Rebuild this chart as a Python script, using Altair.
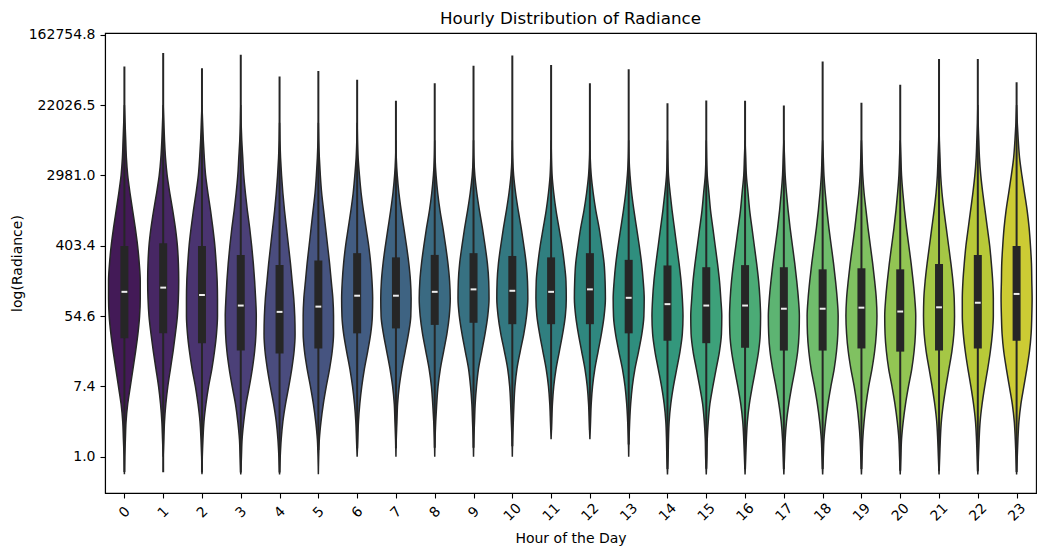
import colorsys
import numpy as np
import pandas as pd
import altair as alt

# ---------------- data ----------------
HOURS = list(range(24))

# y levels (natural-log radiance) at which the violin half-widths were read
LEVELS = [-0.5, 0.0, 0.5, 1.0, 1.5, 2.0, 2.5, 3.0, 3.5, 4.0, 4.5, 5.0,
          5.5, 6.0, 6.5, 7.0, 7.5, 8.0, 8.5, 9.0, 9.5, 10.0]

# relative density (violin half-width, arbitrary units) at each level, one list per hour
DENSITY = [
    [0, 1, 3, 5, 10, 18, 26, 34, 41, 46, 48, 48, 45, 40, 33, 25, 17, 10, 6, 4, 2, 0],   # 0
    [0, 0, 2, 4, 8, 14, 22, 30, 37, 43, 46, 47, 46, 43, 37, 29, 20, 12, 7, 4, 2, 0],    # 1
    [0, 1, 3, 6, 12, 20, 30, 38, 44, 47, 47, 46, 43, 39, 33, 26, 18, 11, 7, 4, 2, 0],   # 2
    [0, 2, 4, 9, 16, 26, 35, 42, 46, 47, 45, 42, 38, 33, 27, 20, 14, 9, 6, 3, 1, 0],    # 3
    [0, 2, 5, 10, 18, 28, 37, 44, 47, 46, 43, 38, 33, 27, 21, 15, 10, 6, 3, 1, 0, 0],   # 4
    [0, 1, 3, 8, 15, 24, 34, 42, 46, 46, 44, 39, 34, 28, 22, 16, 10, 6, 3, 1, 0, 0],    # 5
    [0, 0, 2, 4, 8, 14, 22, 32, 41, 46, 47, 45, 41, 35, 27, 19, 12, 7, 3, 1, 0, 0],     # 6
    [0, 0, 1, 3, 5, 10, 18, 28, 38, 45, 46, 44, 39, 32, 24, 16, 9, 4, 1, 0, 0, 0],      # 7
    [0, 0, 1, 3, 6, 10, 17, 27, 37, 44, 47, 45, 40, 33, 25, 16, 9, 4, 1, 0, 0, 0],      # 8
    [0, 0, 1, 3, 5, 9, 15, 25, 35, 43, 47, 46, 42, 35, 27, 18, 10, 4, 1, 0, 0, 0],      # 9
    [0, 0, 1, 3, 5, 8, 14, 24, 35, 43, 47, 46, 42, 35, 27, 18, 10, 4, 1, 0, 0, 0],      # 10
    [0, 0, 0, 2, 4, 8, 15, 25, 35, 43, 46, 45, 40, 33, 24, 15, 8, 3, 1, 0, 0, 0],       # 11
    [0, 0, 0, 2, 4, 8, 15, 25, 35, 43, 47, 46, 43, 36, 28, 18, 10, 4, 1, 0, 0, 0],      # 12
    [0, 0, 1, 3, 6, 11, 19, 30, 40, 46, 47, 44, 39, 32, 24, 16, 9, 4, 1, 0, 0, 0],      # 13
    [0, 2, 3, 5, 10, 18, 28, 38, 45, 47, 45, 41, 35, 28, 21, 14, 8, 3, 1, 0, 0, 0],     # 14
    [0, 2, 3, 6, 11, 20, 30, 40, 46, 47, 44, 40, 34, 27, 20, 13, 8, 3, 1, 0, 0, 0],     # 15
    [0, 2, 4, 7, 13, 22, 32, 41, 46, 47, 45, 41, 35, 28, 21, 14, 9, 4, 2, 0, 0, 0],     # 16
    [0, 2, 4, 8, 15, 24, 34, 42, 46, 47, 44, 39, 33, 26, 19, 13, 8, 4, 2, 0, 0, 0],     # 17
    [0, 2, 4, 9, 16, 25, 35, 42, 46, 47, 44, 39, 33, 26, 19, 13, 8, 4, 2, 0, 0, 0],     # 18
    [0, 2, 4, 8, 14, 22, 32, 40, 45, 47, 45, 40, 34, 27, 20, 14, 8, 4, 2, 0, 0, 0],     # 19
    [0, 2, 4, 9, 16, 25, 35, 42, 46, 47, 44, 39, 33, 26, 19, 13, 8, 4, 2, 0, 0, 0],     # 20
    [0, 2, 4, 7, 13, 21, 30, 39, 45, 47, 46, 42, 36, 29, 22, 15, 9, 5, 3, 1, 0, 0],     # 21
    [0, 2, 4, 7, 13, 21, 30, 38, 44, 47, 47, 45, 41, 36, 29, 22, 15, 9, 5, 3, 1, 0],    # 22
    [0, 2, 4, 7, 13, 22, 31, 39, 44, 46, 47, 46, 45, 42, 38, 32, 24, 16, 9, 5, 2, 0],   # 23
]

# inner box statistics (log radiance)
Q3 = [5.99, 6.07, 5.99, 5.74, 5.45, 5.58, 5.79, 5.67, 5.74, 5.79, 5.71, 5.67,
      5.79, 5.60, 5.44, 5.39, 5.45, 5.39, 5.33, 5.36, 5.33, 5.48, 5.74, 5.99]
Q1 = [3.37, 3.51, 3.23, 3.02, 2.94, 3.08, 3.51, 3.65, 3.75, 3.81, 3.77, 3.77,
      3.77, 3.51, 3.30, 3.23, 3.10, 3.02, 3.02, 3.08, 2.99, 3.02, 3.08, 3.30]
MEDIAN = [4.69, 4.81, 4.60, 4.30, 4.12, 4.27, 4.58, 4.58, 4.69, 4.76, 4.72, 4.69,
          4.76, 4.52, 4.34, 4.30, 4.30, 4.21, 4.21, 4.24, 4.13, 4.25, 4.38, 4.63]
WHISK_LO = [-0.43, -0.44, -0.45, -0.45, -0.45, 0.19, 0.24, 0.24, 0.26, 0.26, 0.30, 0.76,
            0.76, 0.35, -0.35, -0.34, -0.35, -0.35, -0.35, -0.35, -0.40, -0.40, -0.41, -0.43]
WHISK_HI = [11.10, 11.48, 11.05, 11.43, 10.81, 10.97, 10.72, 10.12, 10.62, 11.12, 11.41, 11.14,
            10.62, 11.02, 10.05, 10.13, 10.12, 9.99, 11.24, 10.07, 10.58, 11.31, 11.31, 10.65]

Y_TICKS = [0, 2, 4, 6, 8, 10, 12]

# ---------------- styling ----------------
FONT = "DejaVu Sans"
LINE = "#262626"
HALF_WIDTH = 0.4 / 47.0   # density units -> hour units

VIRIDIS_ANCHORS = ["#440154", "#471365", "#482475", "#463480", "#414487", "#3b528b",
                   "#355f8d", "#2f6c8e", "#2a788e", "#25848e", "#21918c", "#1e9c89",
                   "#22a884", "#2fb47c", "#44bf70", "#5ec962", "#7ad151", "#9bd93c",
                   "#bddf26", "#dfe318", "#fde725"]


def hex2rgb(h):
    return [int(h[i:i + 2], 16) / 255 for i in (1, 3, 5)]


anc = np.array([hex2rgb(h) for h in VIRIDIS_ANCHORS])
pos = np.linspace(0, 1, len(anc))
COLORS = []
for t in np.linspace(0, 1, len(HOURS) + 2)[1:-1]:
    rgb = [float(np.interp(t, pos, anc[:, k])) for k in range(3)]
    h, l, s = colorsys.rgb_to_hls(*rgb)
    r, g, b = colorsys.hls_to_rgb(h, l, s * 0.75)
    COLORS.append("#%02x%02x%02x" % (round(r * 255), round(g * 255), round(b * 255)))

# ---------------- tables ----------------
rows = []
for hr in HOURS:
    d = DENSITY[hr]
    nz = [i for i, v in enumerate(d) if v > 0]
    lo_i = max(nz[0] - 1, 0)
    hi_i = min(nz[-1] + 1, len(d) - 1)
    for i in range(lo_i, hi_i + 1):
        rows.append({"hour": hr, "level": LEVELS[i], "density": d[i]})
vdf = pd.DataFrame(rows)

bdf = pd.DataFrame({"hour": HOURS, "q1": Q1, "q3": Q3, "med": MEDIAN,
                    "wlo": WHISK_LO, "whi": WHISK_HI})

xscale = alt.Scale(domain=[-0.5, 23.5], nice=False, zero=False)
yscale = alt.Scale(domain=[-1.03, 12.05], nice=False, zero=False)

xaxis = alt.Axis(values=HOURS, labelAngle=-45, labelAlign="center", labelBaseline="middle",
                 labelFontSize=14, labelFont=FONT, labelColor="black", labelPadding=14,
                 labelFlush=False, labelOverlap=False,
                 tickSize=5, tickColor="black", tickWidth=1.1,
                 domainColor="black", domainWidth=1.1, grid=False,
                 title="Hour of the Day", titleFont=FONT, titleFontSize=14,
                 titleFontWeight="normal", titleColor="black",
                 titleY=45, titleBaseline="middle")
yaxis = alt.Axis(values=Y_TICKS, labelExpr="format(exp(datum.value), '.1f')",
                 labelFontSize=14, labelFont=FONT, labelColor="black", labelPadding=5,
                 labelFlush=False, labelOverlap=False,
                 tickSize=5, tickColor="black", tickWidth=1.1,
                 domainColor="black", domainWidth=1.1, grid=False,
                 title="log(Radiance)", titleFont=FONT, titleFontSize=14,
                 titleFontWeight="normal", titleColor="black",
                 titleX=-88, titleY=230, titleAlign="center", titleBaseline="middle")

violin = alt.Chart(vdf).transform_calculate(
    xl=f"datum.hour - datum.density * {HALF_WIDTH}",
    xr=f"datum.hour + datum.density * {HALF_WIDTH}",
).mark_area(orient="horizontal", interpolate="monotone", stroke=LINE,
            strokeWidth=1.5, fillOpacity=1).encode(
    y=alt.Y("level:Q", scale=yscale, axis=yaxis),
    x=alt.X("xl:Q", scale=xscale, axis=xaxis),
    x2="xr:Q",
    color=alt.Color("hour:N", scale=alt.Scale(domain=HOURS, range=COLORS), legend=None),
    detail="hour:N",
)

whisker = alt.Chart(bdf).mark_rule(color=LINE, strokeWidth=2).encode(
    x=alt.X("hour:Q", scale=xscale, axis=xaxis),
    y=alt.Y("wlo:Q", scale=yscale, axis=yaxis),
    y2="whi:Q",
)

box = alt.Chart(bdf).mark_rule(color=LINE, strokeWidth=8, strokeCap="butt").encode(
    x=alt.X("hour:Q", scale=xscale, axis=xaxis),
    y=alt.Y("q1:Q", scale=yscale, axis=yaxis),
    y2="q3:Q",
)

median = alt.Chart(bdf).transform_calculate(
    ml="datum.hour - 0.075", mr="datum.hour + 0.075"
).mark_rule(color="#eeeeee", strokeWidth=2).encode(
    x=alt.X("ml:Q", scale=xscale, axis=xaxis),
    x2="mr:Q",
    y=alt.Y("med:Q", scale=yscale, axis=yaxis),
)

chart = alt.layer(violin, whisker, box, median).properties(
    width=931, height=460,
    padding={"left": 105, "top": 33, "right": 9, "bottom": 63},
    autosize=alt.AutoSizeParams(type="none"),
    title=alt.TitleParams("Hourly Distribution of Radiance", font=FONT, fontSize=16.7,
                          fontWeight="normal", color="black", anchor="middle",
                          frame="group", baseline="bottom", offset=4, dy=21),
).configure(background="white").configure_view(stroke="black", strokeWidth=1.1)

chart.save("out.html", embed_options={"renderer": "svg", "actions": False})
